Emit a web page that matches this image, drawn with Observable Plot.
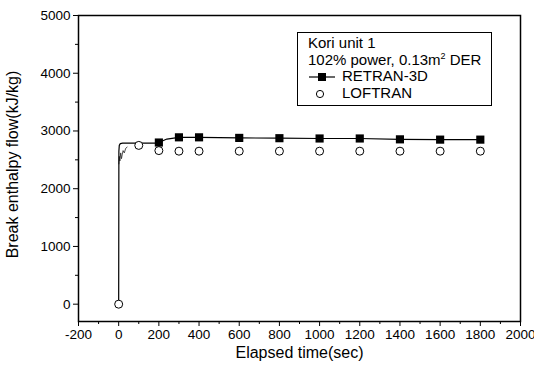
<!DOCTYPE html>
<html>
<head>
<meta charset="utf-8">
<script src="https://cdn.jsdelivr.net/npm/d3@7"></script>
<script src="https://cdn.jsdelivr.net/npm/@observablehq/plot@0.6"></script>
<style>
  html, body { margin: 0; padding: 0; background: #fff; }
  #chart { position: relative; width: 534px; height: 369px; font-family: "Liberation Sans", Arial, sans-serif; }
  #legend {
    position: absolute; left: 297px; top: 32px; width: 195px; height: 74px;
    border: 1px solid #000; box-sizing: border-box; background: #fff;
    font-size: 15px; color: #000; line-height: 16.5px; padding: 2px 0 0 10px;
  }
  #legend .row { white-space: nowrap; height: 16.5px; }
  #legend svg { vertical-align: middle; margin-right: 6px; }
  #legend sup { font-size: 9px; vertical-align: 6px; line-height: 0; }
</style>
</head>
<body>
<div id="chart"></div>
<script>
// RETRAN-3D calculated break enthalpy flow (line)
const retranTime = [0, 1, 3, 8, 20, 100, 180, 200, 240, 300, 400, 600, 800, 1000, 1200, 1400, 1600, 1800];
const retranFlow = [0, 2650, 2750, 2780, 2790, 2790, 2790, 2800, 2860, 2890, 2890, 2880, 2875, 2870, 2870, 2855, 2850, 2850];
// RETRAN-3D symbol positions
const retranMarkTime = [200, 300, 400, 600, 800, 1000, 1200, 1400, 1600, 1800];
const retranMarkFlow = [2800, 2890, 2890, 2880, 2875, 2870, 2870, 2855, 2850, 2850];
// LOFTRAN results (symbols)
const loftranTime = [0, 100, 200, 300, 400, 600, 800, 1000, 1200, 1400, 1600, 1800];
const loftranFlow = [0, 2750, 2660, 2650, 2650, 2650, 2650, 2650, 2650, 2650, 2650, 2650];
// LOFTRAN early transient trace
const loftranEarlyTime = [1, 3, 6, 10, 14, 18, 22, 28, 35, 42];
const loftranEarlyFlow = [2430, 2560, 2480, 2620, 2520, 2600, 2660, 2620, 2700, 2720];

const xTicks = [-200, 0, 200, 400, 600, 800, 1000, 1200, 1400, 1600, 1800, 2000];
const xMinor = d3.range(-100, 2000, 200);
const yTicks = [0, 1000, 2000, 3000, 4000, 5000];
const yMinor = [500, 1500, 2500, 3500, 4500];

const retran = retranTime.map((t, i) => ({t, v: retranFlow[i]}));
const retranMarks = retranMarkTime.map((t, i) => ({t, v: retranMarkFlow[i]}));
const loftran = loftranTime.map((t, i) => ({t, v: loftranFlow[i]}));
const loftranEarly = loftranEarlyTime.map((t, i) => ({t, v: loftranEarlyFlow[i]}));

const fmt = d => String(d);

const plot = Plot.plot({
  width: 534,
  height: 369,
  marginLeft: 78,
  marginRight: 14,
  marginTop: 15,
  marginBottom: 48,
  style: {fontFamily: "'Liberation Sans', Arial, sans-serif", fontSize: "13.5px", color: "#000", background: "#fff"},
  x: {domain: [-200, 2000]},
  y: {domain: [-300, 5000]},
  marks: [
    Plot.axisX({ticks: xTicks, tickFormat: fmt, tickSize: 5, tickPadding: 3, label: null}),
    Plot.axisX({ticks: xMinor, tickSize: 3, text: null, label: null}),
    Plot.axisY({ticks: yTicks, tickFormat: fmt, tickSize: 5, tickPadding: 3, label: null}),
    Plot.axisY({ticks: yMinor, tickSize: 3, text: null, label: null}),
    Plot.frame({stroke: "#000", strokeWidth: 1.5}),
    Plot.line(loftranEarly, {x: "t", y: "v", stroke: "#222", strokeWidth: 0.8}),
    Plot.line(retran, {x: "t", y: "v", stroke: "#000", strokeWidth: 1.2}),
    Plot.dot(loftran, {x: "t", y: "v", r: 4, stroke: "#000", strokeWidth: 1, fill: "#fff"}),
    Plot.dot(retranMarks, {x: "t", y: "v", symbol: "square", r: 4.6, fill: "#000", stroke: "none"}),
    Plot.text(["Elapsed time(sec)"], {frameAnchor: "bottom", dy: 36, fontSize: 16, fill: "#000"}),
    Plot.text(["Break enthalpy flow(kJ/kg)"], {frameAnchor: "left", dx: -66, dy: -4, rotate: -90, textAnchor: "middle", fontSize: 16, fill: "#000"})
  ]
});

const chart = document.getElementById("chart");
chart.appendChild(plot);

// legend box
const legend = document.createElement("div");
legend.id = "legend";
legend.innerHTML = `
  <div class="row">Kori unit 1</div>
  <div class="row">102% power, 0.13m<sup>2</sup> DER</div>
  <div class="row"><svg width="28" height="10"><line x1="1" y1="5" x2="27" y2="5" stroke="#000" stroke-width="1.2"/><rect x="10" y="1" width="8" height="8" fill="#000"/></svg>RETRAN-3D</div>
  <div class="row"><svg width="28" height="10"><circle cx="12" cy="5" r="3.6" fill="#fff" stroke="#000"/></svg>LOFTRAN</div>`;
chart.appendChild(legend);
</script>
</body>
</html>
